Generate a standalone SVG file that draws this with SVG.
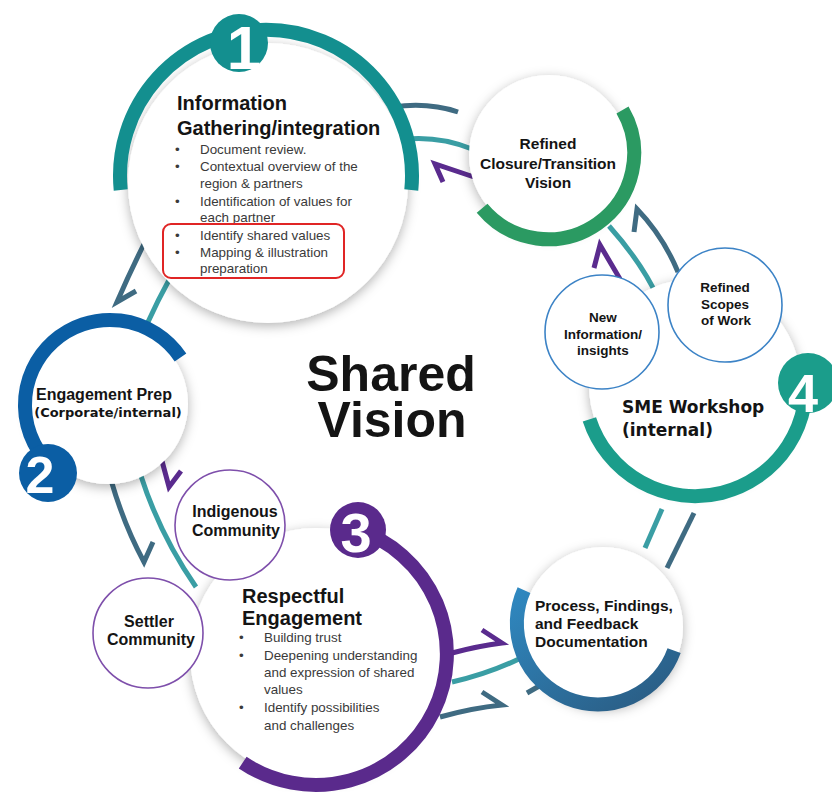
<svg xmlns="http://www.w3.org/2000/svg" width="832" height="792" viewBox="0 0 832 792">
<defs>
  <filter id="shadow" x="-25%" y="-25%" width="150%" height="150%">
    <feDropShadow dx="0" dy="3" stdDeviation="6" flood-color="#000" flood-opacity="0.3"/>
  </filter>
  <linearGradient id="procGrad" x1="0" y1="0" x2="1" y2="1">
    <stop offset="0" stop-color="#2f88c0"/>
    <stop offset="1" stop-color="#2a5a80"/>
  </linearGradient>
</defs>
<style>
  .disc{fill:#fff;filter:url(#shadow)}
  .ring{fill:none;stroke-width:14}
  .link{fill:none;stroke-width:5}
  .dark{stroke:#3f6b82}
  .teal{stroke:#3a9ea4}
  .purple{stroke:#5a2b8e}
  .sub{fill:#fff;stroke-width:1.6}
  .h{font-family:"Liberation Sans",Arial,sans-serif;font-weight:bold;fill:#141414}
  .w{font-family:"DejaVu Sans",Verdana,sans-serif;font-weight:bold;fill:#141414}
  .c{text-anchor:middle}
  .b{font-family:"Liberation Sans",Arial,sans-serif;font-size:13.4px;fill:#3a3a3a}
  .badge{font-family:"Liberation Sans",Arial,sans-serif;font-weight:bold;fill:#fff;text-anchor:middle}
</style>

<!-- connectors between the cycle stages -->
<g id="connectors">
  <!-- stage 1 / closure vision -->
  <path class="link dark" d="M393 107 Q428 102 458 112"/>
  <path class="link teal" d="M406 139 Q440 136 472 149"/>
  <path class="link purple" d="M474 177 L435 164 L443 182"/>
  <!-- stage 1 / stage 2 -->
  <path class="link dark" d="M145 242 Q130 272 117 302 L136 291"/>
  <path class="link teal" d="M169 280 Q158 300 148 322"/>
  <!-- stage 2 / stage 3 -->
  <path class="link purple" d="M162 461 L169 487 L181 471"/>
  <path class="link dark" d="M111 480 Q124 525 144 562 L153 542"/>
  <path class="link teal" d="M141 476 Q160 535 196 587"/>
  <!-- stage 3 / documentation -->
  <path class="link purple" d="M452 653 Q478 646 502 643 L482 630"/>
  <path class="link teal" d="M452 682 Q488 674 521 658"/>
  <path class="link dark" d="M440 717 Q472 708 502 705 L482 692"/>
  <path class="link dark" d="M527 693 L541 685"/>
  <!-- documentation / stage 4 -->
  <path class="link teal" d="M662 509 L645 548"/>
  <path class="link dark" d="M694 513 L667 568"/>
  <!-- stage 4 / closure vision -->
  <path class="link purple" d="M620 279 L600 245 L594 268"/>
  <path class="link teal" d="M609 226 Q642 263 658 298"/>
  <path class="link dark" d="M678 272 Q663 236 637 209 L634 232"/>
</g>

<!-- stage 1 -->
<g id="info-gathering">
  <circle class="disc" cx="268" cy="183" r="140"/>
  <path class="ring" stroke="#138f8f" d="M120.7 190 A146 146 0 1 1 411.3 190"/>
  <circle cx="239" cy="43" r="29" fill="#138f8f"/>
  <text class="badge" x="244" y="69" font-size="62">1</text>
  <text class="h" font-size="20"><tspan x="177" y="110">Information</tspan><tspan x="177" y="135">Gathering/integration</tspan></text>
  <text class="b">
    <tspan x="175" y="154">•</tspan><tspan x="200" y="154">Document review.</tspan>
    <tspan x="175" y="171">•</tspan><tspan x="200" y="171">Contextual overview of the</tspan>
    <tspan x="200" y="188">region &amp; partners</tspan>
    <tspan x="175" y="206">•</tspan><tspan x="200" y="206">Identification of values for</tspan>
    <tspan x="200" y="222">each partner</tspan>
    <tspan x="175" y="240">•</tspan><tspan x="200" y="240">Identify shared values</tspan>
    <tspan x="175" y="257">•</tspan><tspan x="200" y="257">Mapping &amp; illustration</tspan>
    <tspan x="200" y="273">preparation</tspan>
  </text>
  <rect x="163" y="224" width="181" height="54" rx="8" fill="none" stroke="#e02525" stroke-width="2"/>
</g>

<!-- closure / transition vision -->
<g id="closure-vision">
  <circle class="disc" cx="549" cy="155" r="80"/>
  <path class="ring" stroke="#2b9a62" stroke-width="12" d="M622.5 110 A86 86 0 0 1 482.1 208.3"/>
  <text class="h c" font-size="15.5"><tspan x="548" y="149">Refined</tspan><tspan x="548" y="169">Closure/Transition</tspan><tspan x="548" y="188">Vision</tspan></text>
</g>

<!-- stage 4 -->
<g id="sme-workshop">
  <circle class="disc" cx="695" cy="385" r="106"/>
  <path class="ring" stroke="#1b9d8b" d="M804.3 365.7 A111 111 0 0 1 589.4 419.3"/>
  <circle cx="808" cy="383" r="30" fill="#1b9d8b"/>
  <text class="badge" x="803" y="412" font-size="54">4</text>
  <text class="w" font-size="17"><tspan x="622" y="413">SME Workshop</tspan><tspan x="622" y="436">(internal)</tspan></text>
</g>
<g id="new-information">
  <circle class="sub" cx="602" cy="332" r="57" stroke="#3c83c6"/>
  <text class="h c" font-size="13.5"><tspan x="603" y="322">New</tspan><tspan x="603" y="339">Information/</tspan><tspan x="603" y="355">insights</tspan></text>
</g>
<g id="refined-scopes">
  <circle class="sub" cx="725" cy="305" r="57" stroke="#3c83c6"/>
  <text class="h c" font-size="13.5"><tspan x="725" y="292">Refined</tspan><tspan x="725" y="309">Scopes</tspan><tspan x="726" y="325">of Work</tspan></text>
</g>

<!-- documentation -->
<g id="documentation">
  <circle class="disc" cx="603" cy="627" r="80"/>
  <path class="ring" stroke="url(#procGrad)" stroke-width="12" d="M674.1 650.7 A81 81 0 1 1 524 590.1"/>
  <text class="h" font-size="15.5"><tspan x="535" y="611">Process, Findings,</tspan><tspan x="535" y="629">and Feedback</tspan><tspan x="535" y="647">Documentation</tspan></text>
</g>

<!-- stage 3 -->
<g id="respectful-engagement">
  <circle class="disc" cx="316" cy="654" r="126"/>
  <path class="ring" stroke="#5a2a8c" stroke-width="15" d="M356.5 529.4 A131 131 0 1 1 242.7 762.6"/>
  <circle cx="358" cy="530" r="28" fill="#5a2a8c"/>
  <text class="badge" x="356" y="552" font-size="56">3</text>
  <text class="h" font-size="20"><tspan x="242" y="603">Respectful</tspan><tspan x="242" y="625">Engagement</tspan></text>
  <text class="b">
    <tspan x="239" y="642">•</tspan><tspan x="264" y="642">Building trust</tspan>
    <tspan x="239" y="660">•</tspan><tspan x="264" y="660">Deepening understanding</tspan>
    <tspan x="264" y="677">and expression of shared</tspan>
    <tspan x="264" y="694">values</tspan>
    <tspan x="239" y="712">•</tspan><tspan x="264" y="712">Identify possibilities</tspan>
    <tspan x="264" y="730">and challenges</tspan>
  </text>
</g>
<g id="indigenous-community">
  <circle class="sub" cx="230" cy="525" r="55" stroke="#7e4fab"/>
  <text class="h c" font-size="16"><tspan x="235" y="517">Indigenous</tspan><tspan x="236" y="536">Community</tspan></text>
</g>
<g id="settler-community">
  <circle class="sub" cx="148" cy="633" r="55" stroke="#7e4fab"/>
  <text class="h c" font-size="16"><tspan x="149" y="627">Settler</tspan><tspan x="151" y="645">Community</tspan></text>
</g>

<!-- stage 2 -->
<g id="engagement-prep">
  <circle class="disc" cx="108" cy="404" r="80"/>
  <path class="ring" stroke="#0b5ea4" stroke-width="13" d="M55.4 470.1 A85 85 0 1 1 180.5 357.5"/>
  <circle cx="48" cy="473" r="29" fill="#0b5ea4"/>
  <text class="badge" x="40" y="493" font-size="52">2</text>
  <text class="h c" font-size="16" x="104" y="400">Engagement Prep</text>
  <text class="w c" font-size="13" x="108" y="417">(Corporate/internal)</text>
</g>

<!-- centre title -->
<g id="shared-vision">
  <text class="h c" font-size="50" x="391" y="391">Shared</text>
  <text class="h c" font-size="50" x="392" y="437">Vision</text>
</g>
</svg>
